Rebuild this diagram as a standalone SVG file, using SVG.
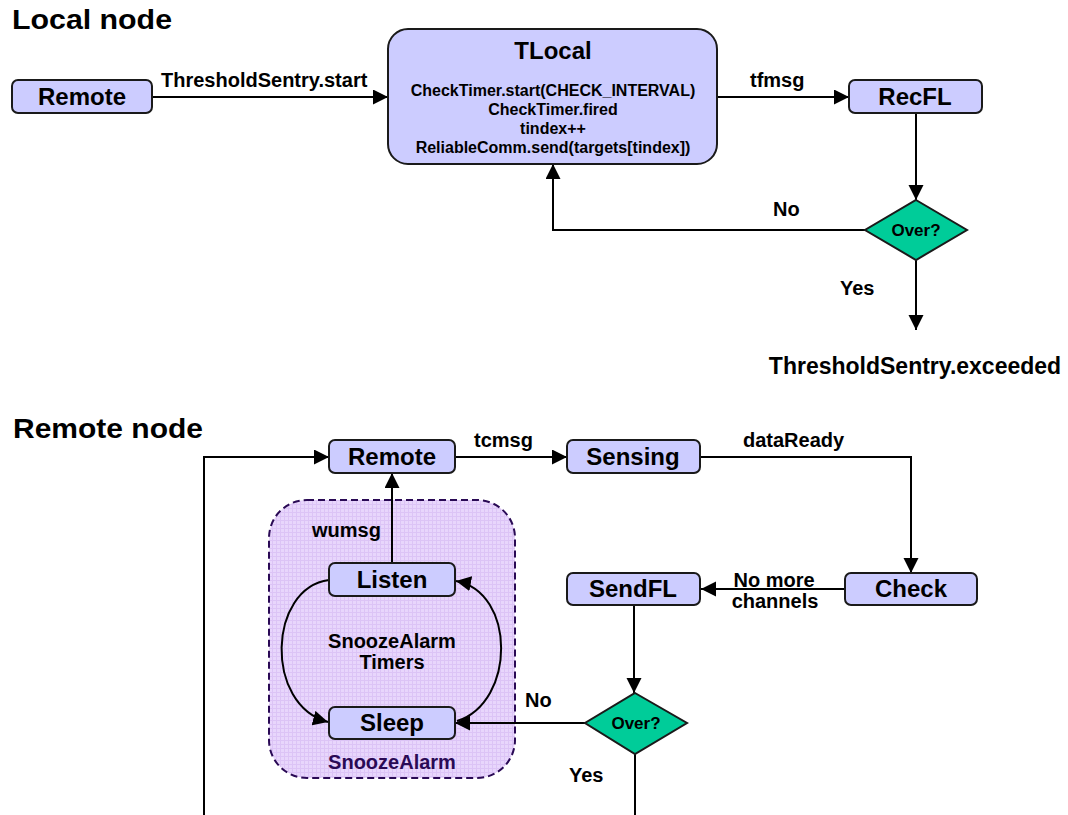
<svg xmlns="http://www.w3.org/2000/svg" width="1068" height="815" viewBox="0 0 1068 815">
  <defs>
    <style>
      text { font-family: "Liberation Sans", Arial, sans-serif; font-weight: bold; fill: #000; }
      .title { font-size: 28px; }
      .box { fill: #CCCCFF; stroke: #1a1a1a; stroke-width: 2; }
      .dia { fill: #00CC99; stroke: #1a1a1a; stroke-width: 2; }
      .lbl { font-size: 24px; text-anchor: middle; }
      .edge { font-size: 20px; }
      .small { font-size: 16px; text-anchor: middle; }
      .over { font-size: 17px; text-anchor: middle; }
      .wire { fill: none; stroke: #000; stroke-width: 2; }
      .arr { marker-end: url(#head); }
      .group { fill: url(#grid); stroke: #2A0A55; stroke-width: 2; stroke-dasharray: 7 4; }
    </style>
    <marker id="head" markerUnits="userSpaceOnUse" markerWidth="16" markerHeight="16" refX="15" refY="7.5" orient="auto">
      <path d="M0,0 L15,7.5 L0,15 z" fill="#000"/>
    </marker>
    <pattern id="grid" patternUnits="userSpaceOnUse" width="4" height="4">
      <rect width="4" height="4" fill="#E8D6FC"/>
      <path d="M0,0.5 H4 M0.5,0 V4" stroke="#DCC4F6" stroke-width="1"/>
    </pattern>
  </defs>

  <!-- section titles -->
  <text class="title" x="12" y="29" textLength="160" lengthAdjust="spacingAndGlyphs">Local node</text>
  <text class="title" x="13" y="438" textLength="190" lengthAdjust="spacingAndGlyphs">Remote node</text>

  <!-- SnoozeAlarm container -->
  <g id="snoozealarm">
    <rect class="group" x="269" y="500" width="246" height="278" rx="38" ry="38"/>
    <text x="392" y="769" font-size="20" text-anchor="middle" style="fill:#2A0A55">SnoozeAlarm</text>
    <text x="392" y="648" font-size="20" text-anchor="middle">SnoozeAlarm</text>
    <text x="392" y="669" font-size="20" text-anchor="middle">Timers</text>
  </g>

  <!-- connectors -->
  <g id="connectors">
    <!-- local node -->
    <path class="wire arr" d="M152,97 H388"/>
    <text class="edge" x="161" y="87">ThresholdSentry.start</text>
    <path class="wire arr" d="M717,97 H849"/>
    <text class="edge" x="750" y="87">tfmsg</text>
    <path class="wire arr" d="M916,113 V200"/>
    <path class="wire arr" d="M865,230 H553 V164"/>
    <text class="edge" x="773" y="216">No</text>
    <path class="wire arr" d="M916,260 V330"/>
    <text class="edge" x="840" y="295">Yes</text>
    <text x="915" y="374" font-size="23" text-anchor="middle">ThresholdSentry.exceeded</text>

    <!-- remote node -->
    <path class="wire arr" d="M204,815 V457 H329"/>
    <path class="wire arr" d="M455,457 H567"/>
    <text class="edge" x="474" y="447">tcmsg</text>
    <path class="wire arr" d="M700,457 H911 V573"/>
    <text class="edge" x="743" y="447">dataReady</text>
    <path class="wire arr" d="M845,589 H701"/>
    <text class="edge" x="774" y="587" text-anchor="middle">No more</text>
    <text class="edge" x="775" y="608" text-anchor="middle">channels</text>
    <path class="wire arr" d="M634,605 V693"/>
    <path class="wire arr" d="M585,723 H455"/>
    <text class="edge" x="525" y="707">No</text>
    <path class="wire" d="M635,754 V815"/>
    <text class="edge" x="569" y="782">Yes</text>
    <path class="wire arr" d="M392,563 V473"/>
    <text class="edge" x="312" y="537">wumsg</text>
    <!-- timer cycle between Listen and Sleep -->
    <path class="wire arr" d="M329,580 C268,588 264,705 328,722"/>
    <path class="wire arr" d="M457,721 C516,702 516,592 456,581"/>
  </g>

  <!-- local node states -->
  <g id="remote-local">
    <rect class="box" x="12" y="80" width="140" height="33" rx="6"/>
    <text class="lbl" x="82" y="105">Remote</text>
  </g>
  <g id="tlocal">
    <rect class="box" x="388" y="29" width="329" height="135" rx="20"/>
    <text class="lbl" x="553" y="59">TLocal</text>
    <text class="small" x="553" y="96">CheckTimer.start(CHECK_INTERVAL)</text>
    <text class="small" x="553" y="115">CheckTimer.fired</text>
    <text class="small" x="553" y="134">tindex++</text>
    <text class="small" x="553" y="153">ReliableComm.send(targets[tindex])</text>
  </g>
  <g id="recfl">
    <rect class="box" x="849" y="80" width="133" height="33" rx="6"/>
    <text class="lbl" x="915" y="105">RecFL</text>
  </g>
  <g id="over-local">
    <path class="dia" d="M916,200 L967,230 L916,260 L865,230 z"/>
    <text class="over" x="916" y="236">Over?</text>
  </g>

  <!-- remote node states -->
  <g id="remote">
    <rect class="box" x="329" y="440" width="126" height="33" rx="6"/>
    <text class="lbl" x="392" y="465">Remote</text>
  </g>
  <g id="sensing">
    <rect class="box" x="567" y="440" width="133" height="33" rx="6"/>
    <text class="lbl" x="633" y="465">Sensing</text>
  </g>
  <g id="check">
    <rect class="box" x="845" y="573" width="132" height="32" rx="6"/>
    <text class="lbl" x="911" y="597">Check</text>
  </g>
  <g id="sendfl">
    <rect class="box" x="567" y="573" width="133" height="32" rx="6"/>
    <text class="lbl" x="633" y="597">SendFL</text>
  </g>
  <g id="over-remote">
    <path class="dia" d="M635,693 L687,723 L635,754 L585,723 z"/>
    <text class="over" x="636" y="729">Over?</text>
  </g>
  <g id="listen">
    <rect class="box" x="329" y="563" width="126" height="33" rx="6"/>
    <text class="lbl" x="392" y="588">Listen</text>
  </g>
  <g id="sleep">
    <rect class="box" x="329" y="707" width="126" height="32" rx="6"/>
    <text class="lbl" x="392" y="731">Sleep</text>
  </g>
</svg>
